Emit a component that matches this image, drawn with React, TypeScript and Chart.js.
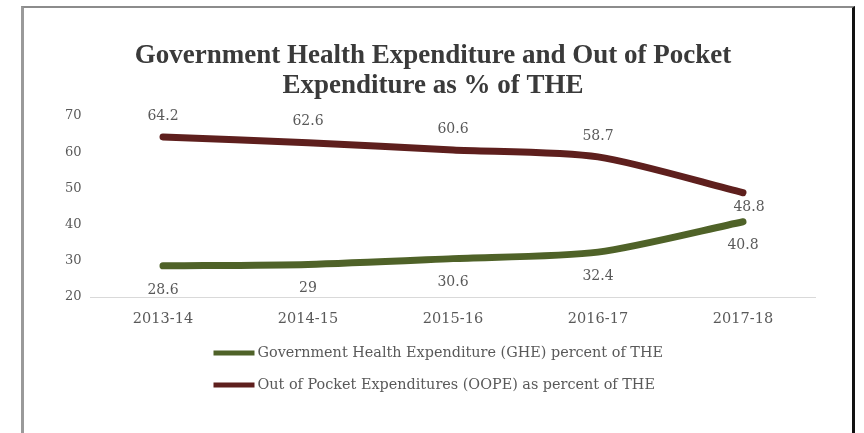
import { useEffect, useRef } from "react";
import { Chart, registerables } from "chart.js";

Chart.register(...registerables);

const categories = ["2013-14", "2014-15", "2015-16", "2016-17", "2017-18"];
const gheValues = [28.6, 29, 30.6, 32.4, 40.8];
const oopeValues = [64.2, 62.6, 60.6, 58.7, 48.8];
const gheLabel = "Government Health Expenditure (GHE) percent of THE";
const oopeLabel = "Out of Pocket Expenditures (OOPE) as percent of THE";
const titleLines = ["Government Health Expenditure and Out of Pocket", "Expenditure as % of THE"];
const yMin = 20;
const yMax = 70;
const yStep = 10;

const GHE_COLOR = "#4f6228";
const OOPE_COLOR = "#5e1f1d";
const TEXT_COLOR = "#595959";
const SERIF = "'DejaVu Serif', 'Liberation Serif', serif";
const TITLE_FONT = "'Liberation Serif', 'DejaVu Serif', serif";

const titlePlugin = {
  id: "customTitle",
  afterDraw(chart: any) {
    const ctx = chart.ctx;
    ctx.save();
    ctx.font = `bold 27px ${TITLE_FONT}`;
    ctx.fillStyle = "#3a3a3a";
    ctx.textAlign = "center";
    ctx.textBaseline = "middle";
    titleLines.forEach((line, i) => {
      ctx.fillText(line, 433, 56 + i * 30);
    });
    ctx.restore();
  },
};

const valueLabelsPlugin = {
  id: "valueLabels",
  afterDatasetsDraw(chart: any) {
    const ctx = chart.ctx;
    ctx.save();
    ctx.font = `14px ${SERIF}`;
    ctx.fillStyle = TEXT_COLOR;
    ctx.textAlign = "center";
    ctx.textBaseline = "middle";
    chart.data.datasets.forEach((ds: any, di: number) => {
      const meta = chart.getDatasetMeta(di);
      meta.data.forEach((pt: any, i: number) => {
        const v = ds.data[i];
        let dx = 0;
        let dy = ds.labelAbove ? -21 : 24;
        if (ds.labelAbove && i === ds.data.length - 1) {
          dx = 6;
          dy = 15;
        }
        ctx.fillText(String(v), pt.x + dx, pt.y + dy);
      });
    });
    ctx.restore();
  },
};

const legendPlugin = {
  id: "stackedLegend",
  afterDraw(chart: any) {
    const ctx = chart.ctx;
    const area = chart.chartArea;
    ctx.save();
    ctx.font = `14.4px ${SERIF}`;
    ctx.fillStyle = TEXT_COLOR;
    ctx.textBaseline = "middle";
    ctx.textAlign = "left";
    chart.data.datasets.forEach((ds: any, di: number) => {
      const y = area.bottom + 56 + di * 32;
      const x0 = area.left + 123;
      ctx.strokeStyle = ds.borderColor;
      ctx.lineWidth = 5;
      ctx.lineCap = "butt";
      ctx.beginPath();
      ctx.moveTo(x0, y);
      ctx.lineTo(x0 + 41, y);
      ctx.stroke();
      ctx.fillText(ds.label, x0 + 44, y);
    });
    ctx.restore();
  },
};

export default function App() {
  const canvasRef = useRef<HTMLCanvasElement | null>(null);

  useEffect(() => {
    const canvas = canvasRef.current;
    if (!canvas) return;
    const chart = new Chart(canvas, {
      type: "line",
      data: {
        labels: categories,
        datasets: [
          {
            label: gheLabel,
            data: gheValues,
            borderColor: GHE_COLOR,
            backgroundColor: GHE_COLOR,
            borderWidth: 7,
            pointRadius: 0,
            tension: 0.25,
            borderCapStyle: "round",
            borderJoinStyle: "round",
            labelAbove: false,
          } as any,
          {
            label: oopeLabel,
            data: oopeValues,
            borderColor: OOPE_COLOR,
            backgroundColor: OOPE_COLOR,
            borderWidth: 7,
            pointRadius: 0,
            tension: 0.25,
            borderCapStyle: "round",
            borderJoinStyle: "round",
            labelAbove: true,
          } as any,
        ],
      },
      options: {
        responsive: false,
        animation: false,
        layout: { padding: { top: 116, left: 0, right: 48.5, bottom: 0 } },
        plugins: {
          legend: { display: false },
          tooltip: { enabled: false },
          title: { display: false },
        },
        scales: {
          x: {
            offset: true,
            grid: { display: false, drawTicks: false },
            border: { display: true, color: "#d9d9d9", width: 1 },
            ticks: { color: TEXT_COLOR, font: { family: SERIF, size: 14.5 }, padding: 14, maxRotation: 0 },
            afterFit: (scale: any) => {
              scale.height = 136;
            },
          },
          y: {
            min: yMin,
            max: yMax,
            grid: { display: false, drawTicks: false },
            border: { display: false },
            ticks: { stepSize: yStep, color: TEXT_COLOR, font: { family: SERIF, size: 13 }, padding: 9 },
            afterFit: (scale: any) => {
              scale.width = 90.5;
            },
          },
        },
      },
      plugins: [titlePlugin, valueLabelsPlugin, legendPlugin],
    });
    return () => chart.destroy();
  }, []);

  return (
    <div style={{ position: "absolute", left: 0, top: 0, width: 864, height: 433, background: "#ffffff", overflow: "hidden" }}>
      <canvas ref={canvasRef} width={864} height={433} style={{ display: "block", width: 864, height: 433 }} />
      <div
        style={{
          position: "absolute",
          left: 21,
          top: 6,
          width: 834,
          height: 427,
          boxSizing: "border-box",
          borderTop: "2px solid #8c8c8c",
          borderLeft: "3px solid #9a9a9a",
          borderRight: "3px solid #111111",
          pointerEvents: "none",
        }}
      />
    </div>
  );
}
